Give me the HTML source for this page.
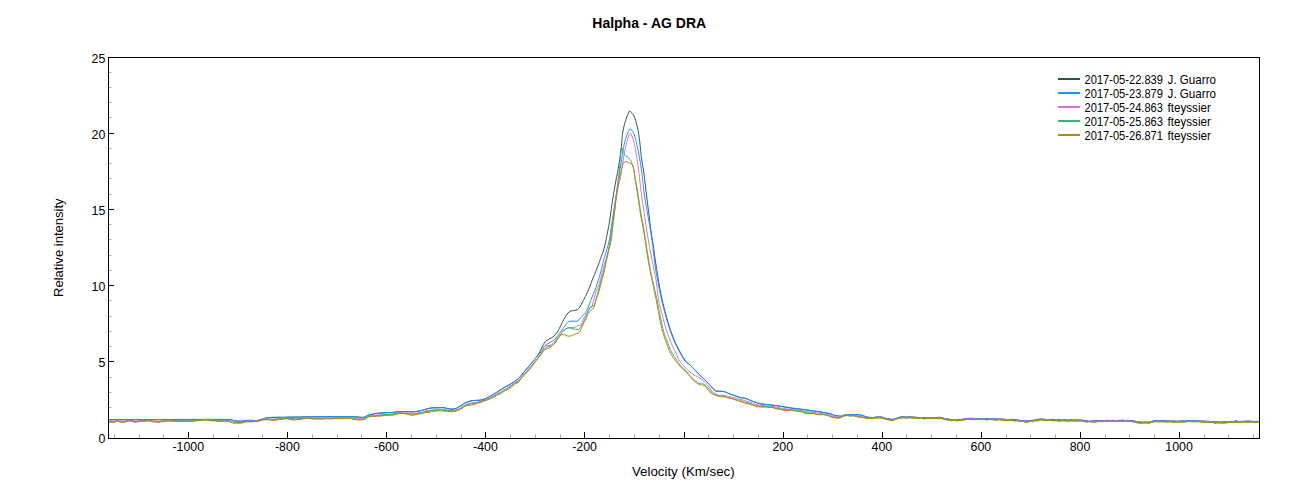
<!DOCTYPE html>
<html><head><meta charset="utf-8"><style>
html,body{margin:0;padding:0;background:#fff;width:1299px;height:500px;overflow:hidden}
svg{position:absolute;left:0;top:0}
text{font-family:"Liberation Sans",sans-serif;fill:#000}
.tk{font-size:12.4px}
.lg{font-size:11.1px}
.ttl{font-size:14px;font-weight:bold}
.ax{font-size:13.3px}
</style></head><body>
<svg width="1299" height="500" viewBox="0 0 1299 500">
<text x="649.2" y="27.8" text-anchor="middle" class="ttl">Halpha - AG DRA</text>
<line x1="108" y1="438.5" x2="114" y2="438.5" stroke="#000" stroke-width="1"/><line x1="108" y1="422.5" x2="111.5" y2="422.5" stroke="#a8a8a8" stroke-width="1"/><line x1="108" y1="407.5" x2="111.5" y2="407.5" stroke="#a8a8a8" stroke-width="1"/><line x1="108" y1="392.5" x2="111.5" y2="392.5" stroke="#a8a8a8" stroke-width="1"/><line x1="108" y1="377.5" x2="111.5" y2="377.5" stroke="#a8a8a8" stroke-width="1"/><line x1="108" y1="361.5" x2="114" y2="361.5" stroke="#000" stroke-width="1"/><line x1="108" y1="346.5" x2="111.5" y2="346.5" stroke="#a8a8a8" stroke-width="1"/><line x1="108" y1="331.5" x2="111.5" y2="331.5" stroke="#a8a8a8" stroke-width="1"/><line x1="108" y1="316.5" x2="111.5" y2="316.5" stroke="#a8a8a8" stroke-width="1"/><line x1="108" y1="300.5" x2="111.5" y2="300.5" stroke="#a8a8a8" stroke-width="1"/><line x1="108" y1="285.5" x2="114" y2="285.5" stroke="#000" stroke-width="1"/><line x1="108" y1="270.5" x2="111.5" y2="270.5" stroke="#a8a8a8" stroke-width="1"/><line x1="108" y1="255.5" x2="111.5" y2="255.5" stroke="#a8a8a8" stroke-width="1"/><line x1="108" y1="239.5" x2="111.5" y2="239.5" stroke="#a8a8a8" stroke-width="1"/><line x1="108" y1="224.5" x2="111.5" y2="224.5" stroke="#a8a8a8" stroke-width="1"/><line x1="108" y1="209.5" x2="114" y2="209.5" stroke="#000" stroke-width="1"/><line x1="108" y1="194.5" x2="111.5" y2="194.5" stroke="#a8a8a8" stroke-width="1"/><line x1="108" y1="178.5" x2="111.5" y2="178.5" stroke="#a8a8a8" stroke-width="1"/><line x1="108" y1="163.5" x2="111.5" y2="163.5" stroke="#a8a8a8" stroke-width="1"/><line x1="108" y1="148.5" x2="111.5" y2="148.5" stroke="#a8a8a8" stroke-width="1"/><line x1="108" y1="133.5" x2="114" y2="133.5" stroke="#000" stroke-width="1"/><line x1="108" y1="117.5" x2="111.5" y2="117.5" stroke="#a8a8a8" stroke-width="1"/><line x1="108" y1="102.5" x2="111.5" y2="102.5" stroke="#a8a8a8" stroke-width="1"/><line x1="108" y1="87.5" x2="111.5" y2="87.5" stroke="#a8a8a8" stroke-width="1"/><line x1="108" y1="72.5" x2="111.5" y2="72.5" stroke="#a8a8a8" stroke-width="1"/><line x1="108" y1="57.5" x2="114" y2="57.5" stroke="#000" stroke-width="1"/><line x1="114.5" y1="438" x2="114.5" y2="434.5" stroke="#a8a8a8" stroke-width="1"/><line x1="139.5" y1="438" x2="139.5" y2="434.5" stroke="#a8a8a8" stroke-width="1"/><line x1="163.5" y1="438" x2="163.5" y2="434.5" stroke="#a8a8a8" stroke-width="1"/><line x1="188.5" y1="438" x2="188.5" y2="432" stroke="#000" stroke-width="1"/><line x1="213.5" y1="438" x2="213.5" y2="434.5" stroke="#a8a8a8" stroke-width="1"/><line x1="238.5" y1="438" x2="238.5" y2="434.5" stroke="#a8a8a8" stroke-width="1"/><line x1="262.5" y1="438" x2="262.5" y2="434.5" stroke="#a8a8a8" stroke-width="1"/><line x1="287.5" y1="438" x2="287.5" y2="432" stroke="#000" stroke-width="1"/><line x1="312.5" y1="438" x2="312.5" y2="434.5" stroke="#a8a8a8" stroke-width="1"/><line x1="337.5" y1="438" x2="337.5" y2="434.5" stroke="#a8a8a8" stroke-width="1"/><line x1="361.5" y1="438" x2="361.5" y2="434.5" stroke="#a8a8a8" stroke-width="1"/><line x1="386.5" y1="438" x2="386.5" y2="432" stroke="#000" stroke-width="1"/><line x1="411.5" y1="438" x2="411.5" y2="434.5" stroke="#a8a8a8" stroke-width="1"/><line x1="436.5" y1="438" x2="436.5" y2="434.5" stroke="#a8a8a8" stroke-width="1"/><line x1="461.5" y1="438" x2="461.5" y2="434.5" stroke="#a8a8a8" stroke-width="1"/><line x1="485.5" y1="438" x2="485.5" y2="432" stroke="#000" stroke-width="1"/><line x1="510.5" y1="438" x2="510.5" y2="434.5" stroke="#a8a8a8" stroke-width="1"/><line x1="535.5" y1="438" x2="535.5" y2="434.5" stroke="#a8a8a8" stroke-width="1"/><line x1="560.5" y1="438" x2="560.5" y2="434.5" stroke="#a8a8a8" stroke-width="1"/><line x1="584.5" y1="438" x2="584.5" y2="432" stroke="#000" stroke-width="1"/><line x1="609.5" y1="438" x2="609.5" y2="434.5" stroke="#a8a8a8" stroke-width="1"/><line x1="634.5" y1="438" x2="634.5" y2="434.5" stroke="#a8a8a8" stroke-width="1"/><line x1="659.5" y1="438" x2="659.5" y2="434.5" stroke="#a8a8a8" stroke-width="1"/><line x1="684.5" y1="438" x2="684.5" y2="432" stroke="#000" stroke-width="1"/><line x1="708.5" y1="438" x2="708.5" y2="434.5" stroke="#a8a8a8" stroke-width="1"/><line x1="733.5" y1="438" x2="733.5" y2="434.5" stroke="#a8a8a8" stroke-width="1"/><line x1="758.5" y1="438" x2="758.5" y2="434.5" stroke="#a8a8a8" stroke-width="1"/><line x1="783.5" y1="438" x2="783.5" y2="432" stroke="#000" stroke-width="1"/><line x1="807.5" y1="438" x2="807.5" y2="434.5" stroke="#a8a8a8" stroke-width="1"/><line x1="832.5" y1="438" x2="832.5" y2="434.5" stroke="#a8a8a8" stroke-width="1"/><line x1="857.5" y1="438" x2="857.5" y2="434.5" stroke="#a8a8a8" stroke-width="1"/><line x1="882.5" y1="438" x2="882.5" y2="432" stroke="#000" stroke-width="1"/><line x1="906.5" y1="438" x2="906.5" y2="434.5" stroke="#a8a8a8" stroke-width="1"/><line x1="931.5" y1="438" x2="931.5" y2="434.5" stroke="#a8a8a8" stroke-width="1"/><line x1="956.5" y1="438" x2="956.5" y2="434.5" stroke="#a8a8a8" stroke-width="1"/><line x1="981.5" y1="438" x2="981.5" y2="432" stroke="#000" stroke-width="1"/><line x1="1006.5" y1="438" x2="1006.5" y2="434.5" stroke="#a8a8a8" stroke-width="1"/><line x1="1030.5" y1="438" x2="1030.5" y2="434.5" stroke="#a8a8a8" stroke-width="1"/><line x1="1055.5" y1="438" x2="1055.5" y2="434.5" stroke="#a8a8a8" stroke-width="1"/><line x1="1080.5" y1="438" x2="1080.5" y2="432" stroke="#000" stroke-width="1"/><line x1="1105.5" y1="438" x2="1105.5" y2="434.5" stroke="#a8a8a8" stroke-width="1"/><line x1="1129.5" y1="438" x2="1129.5" y2="434.5" stroke="#a8a8a8" stroke-width="1"/><line x1="1154.5" y1="438" x2="1154.5" y2="434.5" stroke="#a8a8a8" stroke-width="1"/><line x1="1179.5" y1="438" x2="1179.5" y2="432" stroke="#000" stroke-width="1"/><line x1="1204.5" y1="438" x2="1204.5" y2="434.5" stroke="#a8a8a8" stroke-width="1"/><line x1="1228.5" y1="438" x2="1228.5" y2="434.5" stroke="#a8a8a8" stroke-width="1"/><line x1="1253.5" y1="438" x2="1253.5" y2="434.5" stroke="#a8a8a8" stroke-width="1"/>
<g shape-rendering="auto"><path d="M108.00,419.61 L111.00,419.73 L114.00,419.67 L117.00,419.66 L120.00,419.69 L123.00,419.67 L126.00,419.54 L129.00,419.70 L132.00,419.65 L135.00,419.65 L138.00,419.45 L141.00,419.72 L144.00,419.56 L147.00,419.58 L150.00,419.56 L153.00,419.57 L156.00,419.51 L159.00,419.57 L162.00,419.62 L165.00,419.40 L168.00,419.57 L171.00,419.47 L174.00,419.63 L177.00,419.37 L180.00,419.54 L183.00,419.41 L186.00,419.54 L189.00,419.43 L192.00,419.45 L195.00,419.39 L198.00,419.43 L201.00,419.48 L204.00,419.36 L207.00,419.43 L210.00,419.33 L213.00,419.55 L216.00,419.41 L219.00,419.44 L222.00,419.44 L225.00,419.53 L228.00,419.44 L231.00,419.55 L232.50,420.08 L234.00,420.70 L237.00,421.12 L240.00,421.19 L243.00,421.13 L246.00,420.37 L249.00,420.32 L252.00,420.40 L255.00,420.50 L258.00,420.36 L261.00,419.52 L262.50,419.05 L264.00,418.51 L267.00,417.87 L270.00,417.58 L273.00,417.33 L276.00,417.39 L279.00,417.24 L282.00,417.37 L285.00,417.27 L288.00,417.19 L291.00,417.17 L294.00,417.12 L297.00,417.11 L300.00,417.06 L303.00,417.01 L306.00,416.90 L309.00,416.91 L312.00,416.95 L315.00,416.84 L318.00,416.78 L321.00,416.75 L324.00,416.81 L327.00,416.80 L330.00,416.57 L333.00,416.72 L336.00,416.64 L339.00,416.65 L342.00,416.55 L345.00,416.73 L348.00,416.67 L351.00,416.69 L354.00,416.83 L357.00,417.05 L360.00,417.23 L363.00,417.46 L364.50,417.00 L366.00,416.35 L367.50,415.72 L369.00,415.08 L372.00,414.22 L375.00,413.49 L378.00,413.26 L381.00,412.99 L384.00,412.87 L387.00,412.59 L390.00,412.55 L393.00,412.40 L396.00,412.10 L399.00,411.54 L402.00,411.56 L405.00,411.68 L408.00,411.72 L411.00,411.83 L414.00,411.89 L417.00,411.37 L420.00,410.80 L423.00,410.21 L424.50,409.61 L426.00,409.10 L429.00,408.31 L432.00,407.90 L435.00,407.77 L438.00,407.76 L441.00,407.65 L444.00,407.62 L447.00,408.49 L450.00,409.02 L453.00,409.17 L456.00,408.40 L457.50,407.71 L459.00,406.89 L460.50,405.99 L462.00,404.99 L463.50,403.90 L465.00,402.96 L466.50,402.35 L468.00,401.81 L471.00,400.81 L474.00,400.47 L477.00,400.43 L480.00,400.20 L483.00,399.45 L484.50,399.08 L486.00,398.45 L487.50,397.62 L489.00,396.85 L490.50,396.08 L492.00,395.14 L493.50,394.22 L495.00,393.44 L496.50,392.55 L498.00,391.46 L499.50,390.41 L501.00,389.49 L502.50,388.59 L504.00,387.67 L505.50,386.85 L507.00,386.04 L508.50,385.19 L510.00,384.36 L511.50,383.50 L513.00,382.54 L514.50,381.54 L516.00,380.60 L517.62,379.40 L519.00,378.09 L520.00,376.92 L520.58,376.28 L521.30,375.43 L522.13,374.46 L523.06,373.38 L524.05,372.19 L525.08,370.94 L526.13,369.66 L527.17,368.40 L528.18,367.21 L529.13,366.07 L530.00,365.02 L530.99,363.81 L531.95,362.66 L532.89,361.57 L533.80,360.51 L534.69,359.45 L535.56,358.38 L536.40,357.28 L537.21,356.16 L538.00,354.99 L538.87,353.58 L539.71,352.05 L540.53,350.45 L541.31,348.82 L542.06,347.25 L542.76,345.80 L543.41,344.52 L544.00,343.48 L545.22,341.78 L546.11,340.98 L547.00,340.32 L548.50,339.30 L550.00,338.51 L551.38,338.03 L553.00,336.99 L553.87,336.13 L554.86,335.09 L555.90,333.89 L556.97,332.53 L558.00,331.01 L558.71,329.78 L559.40,328.42 L560.09,326.96 L560.79,325.45 L561.50,323.92 L562.23,322.43 L563.00,321.00 L563.78,319.59 L564.57,318.14 L565.37,316.71 L566.20,315.34 L567.07,314.08 L568.00,312.95 L569.00,312.00 L570.60,311.13 L572.41,310.74 L574.27,310.49 L576.02,310.13 L577.50,309.49 L578.63,308.57 L579.52,307.49 L580.28,306.21 L581.07,304.72 L582.00,302.98 L582.61,301.87 L583.27,300.64 L583.96,299.34 L584.66,297.97 L585.37,296.57 L586.08,295.14 L586.76,293.73 L587.40,292.34 L588.00,291.02 L588.69,289.38 L589.33,287.77 L589.93,286.17 L590.49,284.60 L591.05,283.04 L591.62,281.51 L592.20,279.99 L592.81,278.51 L593.42,277.06 L594.03,275.63 L594.64,274.22 L595.24,272.82 L595.83,271.41 L596.40,269.99 L597.03,268.33 L597.64,266.67 L598.24,265.00 L598.82,263.34 L599.41,261.67 L600.00,260.01 L600.61,258.35 L601.24,256.68 L601.88,255.01 L602.49,253.34 L603.07,251.66 L603.60,249.99 L604.06,248.43 L604.44,246.99 L604.80,245.55 L605.16,243.99 L605.54,242.18 L606.00,240.00 L606.28,238.62 L606.59,237.13 L606.91,235.53 L607.25,233.85 L607.59,232.10 L607.94,230.29 L608.28,228.45 L608.63,226.58 L608.97,224.70 L609.29,222.84 L609.60,221.00 L609.87,219.31 L610.13,217.60 L610.38,215.86 L610.63,214.10 L610.87,212.33 L611.11,210.55 L611.35,208.77 L611.59,206.99 L611.84,205.22 L612.08,203.46 L612.34,201.71 L612.60,199.99 L612.90,198.10 L613.21,196.16 L613.54,194.20 L613.87,192.23 L614.20,190.27 L614.53,188.35 L614.85,186.49 L615.16,184.70 L615.46,183.01 L615.74,181.44 L616.00,180.00 L616.40,177.87 L616.73,176.30 L617.02,175.00 L617.31,173.71 L617.62,172.14 L618.00,170.02 L618.24,168.59 L618.50,167.00 L618.78,165.29 L619.07,163.48 L619.36,161.59 L619.66,159.66 L619.96,157.70 L620.24,155.75 L620.51,153.83 L620.77,151.97 L621.00,150.19 L621.24,148.06 L621.45,145.93 L621.64,143.80 L621.81,141.69 L621.97,139.61 L622.14,137.59 L622.33,135.63 L622.55,133.76 L622.80,131.98 L623.14,130.08 L623.52,128.24 L623.94,126.48 L624.37,124.81 L624.80,123.24 L625.23,121.77 L625.63,120.42 L626.00,119.19 L626.87,116.65 L627.64,114.91 L628.30,113.51 L629.01,111.72 L629.60,110.83 L631.00,112.32 L631.89,113.18 L632.96,114.29 L634.00,115.98 L634.58,117.36 L635.15,118.97 L635.72,120.76 L636.27,122.72 L636.80,124.81 L637.17,126.36 L637.52,127.96 L637.87,129.64 L638.21,131.41 L638.54,133.31 L638.87,135.36 L639.20,137.58 L639.43,139.28 L639.65,141.11 L639.86,143.05 L640.08,145.07 L640.29,147.14 L640.50,149.23 L640.72,151.31 L640.94,153.35 L641.16,155.33 L641.40,157.21 L641.67,159.18 L641.95,161.06 L642.24,162.87 L642.53,164.65 L642.83,166.42 L643.13,168.21 L643.42,170.05 L643.71,171.97 L644.00,174.00 L644.23,175.76 L644.46,177.58 L644.69,179.45 L644.92,181.37 L645.14,183.31 L645.37,185.28 L645.60,187.26 L645.82,189.23 L646.05,191.18 L646.27,193.11 L646.50,195.00 L646.73,196.87 L646.96,198.77 L647.20,200.66 L647.44,202.56 L647.68,204.44 L647.91,206.31 L648.14,208.14 L648.37,209.94 L648.59,211.68 L648.80,213.37 L649.00,215.00 L649.25,217.11 L649.49,219.10 L649.70,220.99 L649.91,222.81 L650.11,224.59 L650.32,226.37 L650.55,228.16 L650.80,230.00 L651.07,231.84 L651.35,233.63 L651.64,235.41 L651.94,237.19 L652.24,239.01 L652.56,240.89 L652.88,242.88 L653.20,244.99 L653.44,246.62 L653.68,248.32 L653.92,250.08 L654.17,251.89 L654.42,253.74 L654.68,255.61 L654.94,257.50 L655.20,259.40 L655.46,261.29 L655.73,263.16 L656.00,265.00 L656.28,266.84 L656.56,268.71 L656.85,270.60 L657.14,272.50 L657.44,274.39 L657.74,276.26 L658.03,278.11 L658.33,279.92 L658.62,281.68 L658.92,283.38 L659.20,285.01 L659.54,286.89 L659.86,288.67 L660.19,290.37 L660.50,292.01 L660.82,293.61 L661.15,295.19 L661.48,296.77 L661.83,298.37 L662.20,300.01 L662.58,301.68 L662.98,303.35 L663.38,305.01 L663.80,306.67 L664.22,308.33 L664.65,309.98 L665.09,311.64 L665.54,313.30 L666.00,314.97 L666.46,316.64 L666.92,318.31 L667.39,319.99 L667.87,321.67 L668.36,323.34 L668.86,325.02 L669.39,326.69 L669.93,328.35 L670.50,330.01 L671.03,331.51 L671.57,333.00 L672.12,334.50 L672.68,336.00 L673.26,337.51 L673.86,339.02 L674.48,340.52 L675.13,342.01 L675.80,343.50 L676.50,344.98 L677.18,346.37 L677.91,347.83 L678.68,349.34 L679.48,350.87 L680.29,352.40 L681.11,353.88 L681.91,355.30 L682.70,356.64 L683.45,357.88 L684.15,359.01 L684.80,359.99 L685.96,361.55 L686.87,362.47 L687.72,363.10 L688.70,363.83 L690.00,365.01 L690.82,365.84 L691.74,366.77 L692.74,367.78 L693.80,368.86 L694.89,369.97 L695.99,371.10 L697.07,372.21 L698.12,373.29 L699.10,374.30 L700.00,375.28 L701.35,376.64 L702.59,377.78 L703.75,378.80 L704.85,379.81 L705.93,380.86 L707.00,381.95 L708.09,383.11 L709.19,384.29 L710.25,385.47 L711.26,386.60 L712.19,387.62 L713.00,388.46 L714.38,390.08 L716.00,390.97 L717.67,391.23 L719.75,391.29 L721.95,391.32 L724.00,391.58 L725.75,392.13 L727.38,392.84 L729.06,393.66 L731.00,394.48 L732.56,394.95 L734.33,395.41 L736.19,396.07 L738.00,396.80 L739.65,397.27 L741.00,397.58 L743.44,398.06 L745.00,398.24 L746.56,398.70 L748.00,399.32 L749.50,400.01 L751.00,400.65 L752.50,401.18 L754.00,401.68 L755.50,402.22 L757.00,402.77 L758.50,403.35 L760.00,403.81 L763.00,404.10 L766.00,404.46 L769.00,404.76 L772.00,405.25 L775.00,405.43 L778.00,405.82 L781.00,406.29 L784.00,406.91 L787.00,407.34 L790.00,407.79 L793.00,408.35 L796.00,408.63 L799.00,408.94 L802.00,409.41 L805.00,409.73 L808.00,410.17 L811.00,410.56 L814.00,411.05 L817.00,411.33 L820.00,411.89 L823.00,412.42 L826.00,412.87 L829.00,413.43 L832.00,414.32 L833.50,415.02 L835.00,415.52 L838.00,415.98 L841.00,416.29 L842.50,415.70 L844.00,415.06 L847.00,414.43 L850.00,414.59 L853.00,414.59 L856.00,414.59 L859.00,414.49 L862.00,415.45 L863.50,415.94 L865.00,416.42 L868.00,417.30 L870.50,417.39 L873.00,417.78 L876.00,417.02 L879.00,416.84 L882.00,417.09 L885.00,418.30 L888.00,418.61 L891.00,419.28 L894.00,419.18 L895.50,418.97 L897.00,418.16 L900.00,417.03 L903.00,416.86 L906.00,417.12 L909.00,416.83 L912.00,417.04 L915.00,417.15 L918.00,417.51 L921.00,417.55 L924.00,417.90 L927.00,417.50 L930.00,417.50 L933.00,417.59 L936.00,417.69 L939.00,417.23 L942.00,417.88 L945.00,418.71 L948.00,418.96 L951.00,419.63 L954.00,419.70 L957.00,419.54 L960.00,419.47 L963.00,419.29 L966.00,418.69 L969.00,418.39 L972.00,418.31 L975.00,418.53 L978.00,418.65 L981.00,418.34 L984.00,418.60 L987.00,418.68 L990.00,418.84 L993.00,418.84 L996.00,418.93 L999.00,419.09 L1002.00,419.06 L1005.00,419.35 L1008.00,419.66 L1011.00,419.35 L1014.00,419.58 L1017.00,419.93 L1020.00,420.39 L1023.00,420.81 L1026.00,421.04 L1029.00,420.78 L1032.00,420.25 L1035.00,420.33 L1038.00,419.23 L1041.00,419.09 L1044.00,419.15 L1047.00,419.82 L1050.00,419.38 L1053.00,419.45 L1056.00,420.12 L1059.00,419.75 L1062.00,420.17 L1065.00,419.89 L1068.00,420.15 L1071.00,419.70 L1074.00,420.20 L1077.00,420.10 L1080.00,419.94 L1083.00,420.20 L1086.00,420.77 L1089.00,421.27 L1092.00,421.02 L1095.00,420.83 L1098.00,420.79 L1101.00,420.64 L1104.00,420.57 L1107.00,420.29 L1110.00,420.41 L1113.00,420.35 L1116.00,420.37 L1119.00,420.71 L1122.00,420.10 L1125.00,420.41 L1128.00,420.39 L1131.00,420.85 L1134.00,420.83 L1137.00,421.78 L1140.00,422.13 L1143.00,422.15 L1146.00,422.13 L1149.00,422.10 L1152.00,421.34 L1155.00,420.51 L1158.00,421.15 L1161.00,420.71 L1164.00,420.74 L1167.00,420.93 L1170.00,421.17 L1173.00,420.92 L1176.00,421.26 L1179.00,421.08 L1182.00,421.02 L1185.00,420.93 L1188.00,420.93 L1191.00,420.46 L1194.00,420.45 L1197.00,420.82 L1200.00,421.19 L1203.00,420.95 L1206.00,421.31 L1209.00,421.35 L1212.00,421.81 L1215.00,421.77 L1218.00,421.91 L1221.00,422.23 L1224.00,421.82 L1227.00,421.86 L1230.00,421.35 L1233.00,421.61 L1236.00,420.80 L1239.00,421.70 L1242.00,421.24 L1245.00,421.32 L1248.00,421.00 L1251.00,421.31 L1254.00,421.44 L1257.00,421.32 L1259.00,421.54" fill="none" stroke="#2F4F4F" stroke-width="1.0" stroke-linejoin="round"/><path d="M108.00,419.73 L111.00,419.65 L114.00,419.77 L117.00,419.54 L120.00,419.75 L123.00,419.64 L126.00,419.63 L129.00,419.63 L132.00,419.64 L135.00,419.58 L138.00,419.65 L141.00,419.61 L144.00,419.55 L147.00,419.55 L150.00,419.66 L153.00,419.48 L156.00,419.61 L159.00,419.46 L162.00,419.61 L165.00,419.52 L168.00,419.51 L171.00,419.51 L174.00,419.47 L177.00,419.59 L180.00,419.36 L183.00,419.59 L186.00,419.37 L189.00,419.50 L192.00,419.44 L195.00,419.44 L198.00,419.43 L201.00,419.32 L204.00,419.56 L207.00,419.31 L210.00,419.43 L213.00,419.42 L216.00,419.48 L219.00,419.45 L222.00,419.42 L225.00,419.52 L228.00,419.45 L231.00,419.54 L232.50,420.14 L234.00,420.69 L237.00,421.12 L240.00,421.32 L243.00,420.89 L246.00,420.51 L249.00,420.35 L252.00,420.39 L255.00,420.36 L258.00,420.51 L261.00,419.51 L262.50,418.87 L264.00,418.37 L267.00,418.06 L270.00,417.44 L273.00,417.38 L276.00,417.35 L279.00,417.33 L282.00,417.30 L285.00,417.27 L288.00,417.21 L291.00,417.16 L294.00,417.15 L297.00,417.03 L300.00,417.13 L303.00,416.96 L306.00,416.90 L309.00,416.96 L312.00,416.93 L315.00,416.79 L318.00,416.77 L321.00,416.91 L324.00,416.67 L327.00,416.78 L330.00,416.64 L333.00,416.73 L336.00,416.58 L339.00,416.67 L342.00,416.59 L345.00,416.68 L348.00,416.66 L351.00,416.78 L354.00,416.77 L357.00,416.98 L360.00,417.28 L363.00,417.57 L364.50,417.03 L366.00,416.24 L367.50,415.58 L369.00,415.06 L372.00,414.23 L375.00,413.56 L378.00,413.22 L381.00,412.95 L384.00,412.84 L387.00,412.66 L390.00,412.52 L393.00,412.42 L396.00,412.04 L399.00,411.54 L402.00,411.64 L405.00,411.62 L408.00,411.74 L411.00,411.77 L414.00,411.91 L417.00,411.41 L420.00,410.84 L423.00,410.15 L424.50,409.59 L426.00,409.02 L429.00,408.45 L432.00,407.89 L435.00,407.73 L438.00,407.71 L441.00,407.68 L444.00,407.70 L447.00,408.45 L450.00,408.96 L453.00,409.18 L456.00,408.46 L457.50,407.79 L459.00,406.88 L460.50,405.90 L462.00,404.94 L463.50,403.94 L465.00,403.03 L466.50,402.32 L468.00,401.67 L471.00,400.96 L474.00,400.48 L477.00,400.31 L480.00,400.22 L483.00,399.51 L484.50,399.08 L486.00,398.45 L487.50,397.63 L489.00,396.81 L490.50,396.02 L492.00,395.17 L493.50,394.29 L495.00,393.38 L496.50,392.43 L498.00,391.49 L499.50,390.56 L501.00,389.60 L502.50,388.57 L504.00,387.57 L505.50,386.72 L507.00,386.00 L508.50,385.28 L510.00,384.41 L511.50,383.46 L513.00,382.60 L514.50,381.70 L516.00,380.55 L517.62,379.14 L519.00,378.02 L520.00,376.87 L520.57,376.14 L521.27,375.29 L522.08,374.31 L522.97,373.21 L523.94,372.05 L524.95,370.84 L525.98,369.61 L527.03,368.37 L528.06,367.13 L529.06,365.92 L530.00,364.79 L531.02,363.57 L532.08,362.34 L533.16,361.11 L534.24,359.88 L535.31,358.64 L536.36,357.41 L537.37,356.21 L538.32,355.07 L539.20,354.00 L540.00,353.01 L541.12,351.46 L542.04,350.02 L542.81,348.69 L543.52,347.48 L544.22,346.41 L545.00,345.49 L546.25,344.46 L547.50,343.77 L548.75,343.18 L550.00,342.49 L551.27,341.69 L552.56,340.88 L553.82,339.99 L555.00,338.99 L556.07,337.87 L557.06,336.63 L558.02,335.33 L559.00,334.00 L559.95,332.68 L560.88,331.36 L561.86,329.99 L563.00,328.52 L563.86,327.37 L564.78,326.04 L565.75,324.66 L566.78,323.37 L567.86,322.29 L569.00,321.51 L570.96,321.02 L573.14,321.13 L575.25,321.37 L577.00,321.20 L578.51,320.34 L579.56,319.12 L580.80,317.60 L581.64,316.76 L582.56,315.89 L583.54,314.94 L584.53,313.85 L585.49,312.61 L586.40,311.17 L587.05,309.92 L587.68,308.50 L588.31,306.97 L588.93,305.37 L589.52,303.75 L590.10,302.15 L590.66,300.63 L591.20,299.23 L591.87,297.58 L592.49,296.08 L593.07,294.68 L593.64,293.30 L594.21,291.89 L594.80,290.38 L595.32,288.99 L595.85,287.53 L596.38,286.04 L596.91,284.52 L597.43,282.99 L597.93,281.48 L598.40,280.00 L598.92,278.30 L599.40,276.63 L599.86,274.97 L600.31,273.32 L600.75,271.67 L601.20,270.01 L601.64,268.35 L602.07,266.69 L602.50,265.02 L602.93,263.35 L603.36,261.68 L603.80,260.00 L604.26,258.33 L604.72,256.66 L605.19,254.99 L605.67,253.32 L606.14,251.65 L606.60,249.98 L607.05,248.42 L607.50,246.99 L607.94,245.56 L608.39,244.00 L608.84,242.19 L609.30,240.01 L609.57,238.53 L609.84,236.98 L610.10,235.36 L610.36,233.64 L610.62,231.83 L610.90,229.91 L611.19,227.88 L611.50,225.73 L611.84,223.44 L612.20,221.01 L612.43,219.46 L612.69,217.79 L612.96,216.02 L613.24,214.16 L613.53,212.22 L613.83,210.24 L614.14,208.22 L614.45,206.18 L614.76,204.15 L615.07,202.13 L615.37,200.15 L615.66,198.23 L615.94,196.38 L616.21,194.61 L616.46,192.95 L616.69,191.41 L616.90,190.02 L617.27,187.48 L617.57,185.38 L617.82,183.62 L618.02,182.09 L618.22,180.68 L618.41,179.27 L618.63,177.75 L618.90,176.02 L619.18,174.30 L619.47,172.49 L619.79,170.63 L620.11,168.74 L620.44,166.87 L620.76,165.02 L621.06,163.24 L621.34,161.55 L621.60,159.98 L621.92,157.86 L622.17,155.96 L622.39,154.20 L622.62,152.50 L622.88,150.79 L623.20,148.99 L623.53,147.36 L623.88,145.69 L624.26,143.99 L624.66,142.31 L625.08,140.66 L625.53,139.09 L626.00,137.61 L626.59,135.89 L627.22,134.11 L627.89,132.42 L628.57,130.94 L629.24,129.83 L629.90,129.19 L630.88,129.24 L631.87,130.18 L632.82,131.68 L633.70,133.41 L634.23,134.69 L634.72,136.17 L635.18,137.81 L635.63,139.56 L636.06,141.37 L636.50,143.19 L636.87,144.71 L637.22,146.21 L637.57,147.74 L637.91,149.33 L638.26,151.05 L638.62,152.92 L639.00,155.00 L639.26,156.45 L639.52,157.99 L639.80,159.61 L640.08,161.29 L640.36,163.03 L640.65,164.82 L640.93,166.63 L641.21,168.47 L641.48,170.32 L641.75,172.17 L642.00,174.00 L642.24,175.84 L642.46,177.71 L642.67,179.61 L642.87,181.54 L643.08,183.47 L643.28,185.42 L643.48,187.36 L643.69,189.30 L643.91,191.23 L644.15,193.14 L644.40,195.02 L644.67,196.86 L644.95,198.65 L645.23,200.41 L645.53,202.16 L645.83,203.89 L646.14,205.64 L646.46,207.41 L646.79,209.22 L647.12,211.07 L647.46,212.99 L647.80,214.99 L648.08,216.61 L648.37,218.29 L648.67,220.00 L648.98,221.75 L649.29,223.52 L649.61,225.33 L649.92,227.15 L650.24,228.99 L650.56,230.84 L650.86,232.69 L651.16,234.54 L651.46,236.38 L651.74,238.21 L652.00,240.01 L652.25,241.82 L652.49,243.64 L652.71,245.48 L652.93,247.33 L653.14,249.18 L653.34,251.02 L653.54,252.86 L653.74,254.68 L653.94,256.48 L654.14,258.26 L654.35,260.01 L654.56,261.72 L654.77,263.39 L655.00,265.01 L655.30,267.03 L655.61,269.00 L655.93,270.93 L656.25,272.82 L656.58,274.68 L656.91,276.50 L657.24,278.27 L657.56,280.01 L657.88,281.72 L658.19,283.38 L658.50,285.00 L658.86,286.89 L659.20,288.68 L659.53,290.39 L659.86,292.03 L660.19,293.63 L660.52,295.20 L660.87,296.77 L661.22,298.37 L661.60,300.00 L661.99,301.66 L662.40,303.32 L662.82,304.98 L663.25,306.65 L663.68,308.32 L664.13,310.00 L664.58,311.67 L665.04,313.34 L665.50,315.01 L665.97,316.68 L666.43,318.35 L666.90,320.01 L667.38,321.67 L667.86,323.33 L668.37,324.99 L668.89,326.65 L669.43,328.32 L670.00,329.99 L670.53,331.50 L671.07,333.00 L671.61,334.51 L672.18,336.01 L672.76,337.51 L673.36,339.01 L673.98,340.51 L674.62,342.01 L675.30,343.50 L676.00,344.99 L676.68,346.39 L677.42,347.84 L678.19,349.34 L679.00,350.87 L679.81,352.39 L680.64,353.87 L681.45,355.30 L682.25,356.64 L683.01,357.88 L683.73,359.00 L684.40,359.99 L685.63,361.57 L686.63,362.49 L687.58,363.12 L688.64,363.82 L690.00,364.98 L690.84,365.81 L691.77,366.76 L692.77,367.78 L693.83,368.86 L694.91,369.99 L696.00,371.13 L697.08,372.25 L698.12,373.31 L699.10,374.28 L700.00,375.10 L701.35,376.48 L702.59,377.77 L703.75,378.87 L704.85,379.84 L705.93,380.86 L707.00,382.01 L708.09,383.25 L709.19,384.43 L710.25,385.48 L711.26,386.46 L712.19,387.43 L713.00,388.32 L714.38,390.10 L716.00,391.06 L717.67,391.23 L719.75,391.28 L721.95,391.34 L724.00,391.58 L725.75,392.13 L727.38,392.88 L729.06,393.68 L731.00,394.32 L732.56,394.82 L734.33,395.57 L736.19,396.24 L738.00,396.70 L739.65,397.20 L741.00,397.61 L743.44,397.95 L745.00,398.17 L746.56,398.82 L748.00,399.44 L749.50,400.00 L751.00,400.61 L752.50,401.18 L754.00,401.68 L755.50,402.18 L757.00,402.73 L758.50,403.33 L760.00,403.82 L763.00,404.17 L766.00,404.43 L769.00,404.76 L772.00,405.24 L775.00,405.38 L778.00,405.95 L781.00,406.27 L784.00,406.81 L787.00,407.30 L790.00,408.00 L793.00,408.24 L796.00,408.54 L799.00,409.05 L802.00,409.33 L805.00,409.81 L808.00,410.13 L811.00,410.54 L814.00,411.02 L817.00,411.41 L820.00,411.89 L823.00,412.36 L826.00,412.93 L829.00,413.34 L832.00,414.43 L833.50,415.00 L835.00,415.49 L838.00,415.99 L841.00,416.18 L842.50,415.80 L844.00,415.16 L847.00,414.47 L850.00,414.50 L853.00,414.59 L856.00,414.57 L859.00,414.62 L862.00,415.35 L863.50,415.88 L865.00,416.43 L868.00,417.29 L870.50,417.67 L873.00,417.73 L876.00,417.13 L879.00,416.99 L882.00,417.15 L885.00,418.32 L888.00,418.84 L891.00,419.44 L894.00,419.16 L895.50,418.56 L897.00,418.08 L900.00,417.49 L903.00,416.84 L906.00,417.08 L909.00,417.06 L912.00,417.05 L915.00,417.36 L918.00,417.55 L921.00,417.73 L924.00,417.78 L927.00,417.85 L930.00,417.49 L933.00,417.76 L936.00,417.66 L939.00,417.36 L942.00,418.13 L945.00,418.57 L948.00,419.29 L951.00,419.64 L954.00,419.81 L957.00,419.42 L960.00,420.07 L963.00,419.05 L966.00,418.75 L969.00,418.51 L972.00,418.67 L975.00,418.36 L978.00,418.86 L981.00,418.35 L984.00,418.75 L987.00,418.83 L990.00,418.96 L993.00,418.75 L996.00,419.20 L999.00,419.10 L1002.00,419.20 L1005.00,419.65 L1008.00,419.34 L1011.00,419.70 L1014.00,419.70 L1017.00,420.09 L1020.00,420.31 L1023.00,420.91 L1026.00,421.20 L1029.00,420.86 L1032.00,420.66 L1035.00,419.81 L1038.00,419.63 L1041.00,419.35 L1044.00,419.27 L1047.00,419.58 L1050.00,419.54 L1053.00,419.93 L1056.00,419.74 L1059.00,420.21 L1062.00,420.15 L1065.00,419.78 L1068.00,420.42 L1071.00,419.97 L1074.00,420.28 L1077.00,419.72 L1080.00,420.44 L1083.00,420.41 L1086.00,420.72 L1089.00,421.30 L1092.00,420.97 L1095.00,421.36 L1098.00,420.63 L1101.00,420.80 L1104.00,420.55 L1107.00,420.47 L1110.00,420.52 L1113.00,420.48 L1116.00,420.70 L1119.00,420.02 L1122.00,420.93 L1125.00,420.47 L1128.00,420.31 L1131.00,420.71 L1134.00,421.31 L1137.00,421.83 L1140.00,422.09 L1143.00,422.44 L1146.00,421.96 L1149.00,422.38 L1152.00,421.41 L1155.00,420.82 L1158.00,420.93 L1161.00,420.81 L1164.00,421.03 L1167.00,421.17 L1170.00,420.94 L1173.00,421.10 L1176.00,421.36 L1179.00,421.46 L1182.00,420.68 L1185.00,421.43 L1188.00,420.60 L1191.00,420.91 L1194.00,420.41 L1197.00,421.09 L1200.00,420.98 L1203.00,421.22 L1206.00,421.48 L1209.00,421.40 L1212.00,421.88 L1215.00,421.71 L1218.00,422.29 L1221.00,422.16 L1224.00,422.02 L1227.00,421.80 L1230.00,421.64 L1233.00,421.46 L1236.00,421.25 L1239.00,421.49 L1242.00,421.55 L1245.00,421.18 L1248.00,421.32 L1251.00,421.41 L1254.00,421.38 L1257.00,421.55 L1259.00,421.57" fill="none" stroke="#1E90FF" stroke-width="1.0" stroke-linejoin="round"/><path d="M108.00,421.09 L111.00,420.78 L114.00,421.17 L117.00,420.59 L120.00,421.12 L123.00,421.01 L126.00,420.99 L129.00,420.23 L132.00,420.72 L135.00,421.08 L138.00,420.79 L141.00,420.57 L144.00,420.55 L147.00,420.18 L150.00,420.61 L153.00,420.73 L156.00,420.88 L159.00,421.10 L162.00,420.94 L165.00,420.26 L168.00,420.47 L171.00,420.37 L174.00,420.49 L177.00,420.59 L180.00,420.36 L183.00,420.66 L186.00,420.53 L189.00,420.58 L192.00,420.37 L195.00,420.40 L198.00,420.06 L201.00,419.83 L204.00,419.82 L207.00,419.80 L210.00,420.08 L213.00,420.11 L216.00,420.60 L219.00,420.34 L222.00,420.44 L225.00,420.43 L228.00,420.64 L231.00,420.79 L232.50,421.48 L234.00,422.20 L237.00,422.26 L240.00,422.29 L243.00,421.95 L246.00,421.28 L249.00,421.20 L252.00,421.31 L255.00,420.82 L258.00,420.98 L261.00,420.24 L262.50,419.40 L264.00,418.91 L267.00,418.88 L270.00,419.17 L273.00,418.90 L276.00,418.72 L279.00,418.90 L282.00,418.17 L285.00,418.10 L288.00,418.34 L291.00,418.47 L294.00,418.72 L297.00,418.72 L300.00,417.95 L303.00,418.30 L306.00,417.75 L309.00,417.61 L312.00,418.08 L315.00,418.31 L318.00,417.81 L321.00,418.10 L324.00,418.11 L327.00,417.75 L330.00,417.89 L333.00,417.90 L336.00,417.70 L339.00,417.74 L342.00,417.72 L345.00,417.71 L348.00,417.78 L351.00,417.76 L354.00,418.14 L357.00,418.71 L360.00,418.81 L363.00,418.71 L364.50,418.02 L366.00,417.37 L367.50,416.90 L369.00,416.31 L372.00,415.32 L375.00,415.04 L378.00,415.13 L381.00,414.56 L384.00,414.10 L387.00,414.31 L390.00,413.98 L393.00,413.87 L396.00,413.29 L399.00,412.75 L402.00,412.28 L405.00,413.24 L408.00,412.90 L411.00,413.78 L414.00,413.68 L417.00,413.12 L420.00,412.23 L423.00,412.19 L426.00,410.71 L429.00,410.39 L432.00,410.25 L435.00,409.42 L438.00,409.32 L441.00,409.61 L444.00,409.48 L447.00,409.98 L450.00,410.41 L453.00,410.36 L456.00,409.81 L457.50,409.58 L459.00,408.95 L460.50,407.77 L462.00,406.57 L463.50,405.72 L465.00,405.07 L466.50,404.44 L468.00,403.72 L471.00,403.06 L474.00,402.74 L477.00,402.18 L480.00,401.37 L483.00,400.59 L484.50,400.45 L486.00,399.75 L487.50,398.75 L489.00,398.04 L490.50,397.48 L492.00,396.69 L493.50,395.87 L495.00,395.18 L496.50,394.31 L498.00,393.22 L499.50,392.35 L501.00,391.65 L502.50,390.68 L504.00,389.69 L505.50,389.01 L507.00,388.24 L508.50,387.06 L510.00,386.02 L511.50,385.39 L513.00,384.55 L514.50,383.20 L516.00,381.99 L517.62,381.13 L519.00,380.18 L520.00,378.89 L520.64,378.07 L521.42,377.16 L522.34,376.14 L523.35,375.03 L524.44,373.85 L525.57,372.58 L526.72,371.26 L527.86,369.95 L528.96,368.69 L530.00,367.50 L530.93,366.45 L531.89,365.36 L532.86,364.24 L533.85,363.08 L534.83,361.92 L535.79,360.77 L536.73,359.66 L537.63,358.60 L538.49,357.56 L539.28,356.55 L540.00,355.56 L540.98,353.98 L541.79,352.36 L542.49,350.78 L543.12,349.29 L543.72,347.95 L544.33,346.81 L545.00,345.94 L547.50,345.45 L550.00,345.55 L551.25,344.73 L552.50,343.68 L553.75,342.44 L555.00,341.00 L555.83,339.81 L556.67,338.41 L557.50,336.92 L558.33,335.47 L559.17,334.15 L560.00,333.06 L561.29,331.81 L562.59,330.84 L563.86,330.09 L565.00,329.46 L566.72,328.34 L568.50,327.54 L571.22,327.44 L574.00,327.54 L575.52,326.94 L576.87,326.04 L578.00,325.45 L580.00,326.00 L580.55,325.17 L581.17,323.97 L581.84,322.52 L582.56,320.94 L583.28,319.38 L584.00,317.98 L584.74,316.68 L585.51,315.36 L586.31,314.03 L587.09,312.73 L587.83,311.50 L588.50,310.44 L589.71,308.99 L590.76,308.13 L591.60,307.23 L592.19,305.78 L592.80,303.32 L593.15,302.09 L593.56,300.59 L594.01,298.90 L594.50,297.11 L595.00,295.29 L595.50,293.54 L596.00,291.94 L596.58,290.27 L597.19,288.73 L597.80,287.24 L598.41,285.73 L599.02,284.13 L599.60,282.39 L600.06,280.83 L600.47,279.27 L600.87,277.68 L601.28,276.00 L601.72,274.20 L602.22,272.24 L602.80,270.06 L603.18,268.70 L603.60,267.28 L604.04,265.82 L604.51,264.30 L604.99,262.71 L605.48,261.07 L605.98,259.37 L606.48,257.62 L606.98,255.81 L607.47,253.95 L607.94,252.01 L608.40,250.00 L608.72,248.50 L609.04,246.93 L609.36,245.28 L609.68,243.56 L610.00,241.80 L610.32,239.98 L610.64,238.14 L610.96,236.26 L611.27,234.38 L611.57,232.49 L611.88,230.61 L612.17,228.74 L612.46,226.91 L612.73,225.10 L613.00,223.35 L613.26,221.64 L613.50,220.00 L613.78,218.04 L614.03,216.09 L614.27,214.15 L614.50,212.22 L614.71,210.32 L614.91,208.44 L615.10,206.59 L615.29,204.78 L615.48,203.01 L615.67,201.29 L615.86,199.62 L616.06,198.01 L616.28,196.47 L616.50,195.00 L616.88,192.83 L617.29,190.79 L617.72,188.89 L618.15,187.12 L618.58,185.47 L618.99,183.94 L619.37,182.53 L619.71,181.22 L620.00,180.01 L620.46,177.97 L620.64,176.91 L621.10,174.04 L621.31,172.71 L621.55,171.12 L621.82,169.32 L622.11,167.36 L622.42,165.28 L622.74,163.13 L623.07,160.97 L623.40,158.83 L623.72,156.77 L624.03,154.84 L624.33,153.09 L624.60,151.56 L625.11,149.00 L625.60,146.85 L626.06,145.02 L626.51,143.41 L626.96,141.91 L627.40,140.43 L628.03,138.11 L628.63,135.90 L629.24,134.21 L629.90,133.42 L630.64,133.73 L631.43,134.92 L632.23,136.75 L633.00,138.95 L633.42,140.35 L633.82,141.91 L634.22,143.61 L634.62,145.45 L635.01,147.41 L635.40,149.49 L635.80,151.66 L636.08,153.23 L636.36,154.85 L636.64,156.53 L636.92,158.26 L637.19,160.05 L637.47,161.90 L637.75,163.82 L638.03,165.81 L638.32,167.86 L638.60,169.99 L638.82,171.70 L639.03,173.49 L639.25,175.34 L639.47,177.25 L639.68,179.21 L639.90,181.19 L640.12,183.20 L640.34,185.21 L640.56,187.22 L640.79,189.22 L641.02,191.18 L641.26,193.11 L641.50,194.98 L641.75,196.84 L642.02,198.72 L642.30,200.61 L642.58,202.50 L642.87,204.38 L643.16,206.25 L643.45,208.09 L643.74,209.89 L644.01,211.65 L644.28,213.35 L644.54,214.98 L644.78,216.54 L645.00,218.02 L645.31,220.14 L645.56,221.95 L645.77,223.55 L645.97,225.03 L646.17,226.52 L646.39,228.11 L646.66,229.91 L647.00,232.03 L647.24,233.49 L647.50,235.04 L647.77,236.66 L648.05,238.35 L648.35,240.10 L648.65,241.89 L648.97,243.72 L649.30,245.59 L649.63,247.47 L649.97,249.36 L650.31,251.25 L650.65,253.13 L651.00,254.99 L651.31,256.61 L651.64,258.26 L651.97,259.94 L652.32,261.64 L652.68,263.36 L653.04,265.08 L653.41,266.81 L653.77,268.53 L654.12,270.25 L654.47,271.96 L654.81,273.64 L655.14,275.30 L655.45,276.92 L655.73,278.50 L656.00,280.03 L656.32,282.05 L656.60,284.04 L656.85,285.98 L657.08,287.88 L657.28,289.73 L657.48,291.55 L657.67,293.32 L657.88,295.05 L658.09,296.74 L658.33,298.38 L658.60,299.99 L658.96,301.87 L659.34,303.65 L659.74,305.35 L660.15,306.99 L660.57,308.60 L661.00,310.19 L661.43,311.78 L661.87,313.38 L662.30,315.02 L662.73,316.68 L663.16,318.34 L663.58,320.00 L664.01,321.65 L664.45,323.31 L664.91,324.96 L665.38,326.63 L665.88,328.30 L666.40,329.98 L666.91,331.53 L667.45,333.13 L668.02,334.75 L668.61,336.37 L669.21,337.97 L669.80,339.53 L670.39,341.03 L670.96,342.45 L671.50,343.78 L672.00,344.98 L672.76,346.71 L673.45,348.14 L674.10,349.38 L674.73,350.54 L675.35,351.71 L676.00,353.01 L676.60,354.38 L677.11,355.72 L677.62,357.07 L678.22,358.44 L678.99,359.86 L680.00,361.37 L680.76,362.38 L681.62,363.48 L682.56,364.64 L683.57,365.81 L684.62,366.93 L685.71,368.05 L686.81,369.20 L687.90,370.34 L688.97,371.38 L690.00,372.25 L691.28,373.15 L692.62,374.02 L693.97,374.90 L695.31,375.66 L696.62,376.29 L697.85,376.89 L698.99,377.55 L700.00,378.31 L701.48,379.35 L702.50,379.96 L703.52,380.80 L705.00,382.43 L705.80,383.37 L706.68,384.41 L707.63,385.49 L708.64,386.69 L709.69,388.12 L710.76,389.69 L711.84,391.15 L712.92,392.25 L713.98,393.02 L715.00,393.60 L716.90,394.59 L718.71,395.22 L720.57,395.28 L722.62,395.22 L725.00,395.65 L726.58,395.92 L728.38,396.25 L730.33,396.95 L732.36,397.43 L734.38,397.69 L736.33,398.41 L738.14,398.87 L739.72,399.02 L741.00,399.36 L743.81,400.38 L745.00,400.67 L748.00,401.58 L749.50,402.00 L751.00,402.45 L752.50,403.12 L754.00,403.83 L755.50,404.40 L757.00,404.80 L760.00,405.18 L763.00,405.77 L766.00,405.76 L769.00,406.07 L772.00,406.30 L775.00,406.99 L778.00,407.39 L781.00,408.31 L784.00,408.29 L787.00,409.07 L790.00,409.21 L793.00,409.33 L796.00,409.91 L799.00,410.15 L802.00,410.64 L805.00,411.38 L808.00,412.03 L811.00,411.75 L814.00,412.49 L817.00,412.93 L820.00,413.22 L823.00,413.80 L826.00,413.90 L829.00,414.62 L830.50,415.28 L832.00,416.18 L835.00,416.68 L838.00,416.97 L841.00,417.06 L842.50,416.26 L844.00,415.56 L847.00,414.90 L850.00,415.38 L853.00,415.27 L856.00,415.43 L859.00,415.85 L862.00,416.58 L865.00,417.24 L868.00,417.84 L870.50,418.44 L873.00,417.85 L876.00,418.00 L879.00,416.83 L882.00,418.07 L885.00,418.30 L888.00,419.52 L891.00,419.71 L894.00,419.60 L895.50,419.20 L897.00,418.55 L900.00,417.68 L903.00,417.37 L906.00,417.63 L909.00,417.27 L912.00,417.35 L915.00,417.93 L918.00,418.17 L921.00,417.57 L924.00,418.68 L927.00,417.93 L930.00,418.12 L933.00,418.01 L936.00,418.17 L939.00,417.59 L942.00,418.74 L945.00,418.91 L948.00,419.44 L951.00,420.57 L954.00,419.56 L957.00,420.22 L960.00,420.55 L963.00,419.22 L966.00,419.03 L969.00,419.27 L972.00,418.98 L975.00,418.49 L978.00,419.53 L981.00,418.66 L984.00,419.19 L987.00,419.29 L990.00,419.14 L993.00,419.38 L996.00,419.58 L999.00,419.33 L1002.00,419.77 L1005.00,420.03 L1008.00,419.59 L1011.00,420.18 L1014.00,420.35 L1017.00,420.09 L1020.00,420.84 L1023.00,421.41 L1026.00,421.75 L1029.00,420.83 L1032.00,421.31 L1035.00,420.32 L1038.00,419.89 L1041.00,419.71 L1044.00,419.74 L1047.00,420.01 L1050.00,419.86 L1053.00,420.45 L1056.00,420.01 L1059.00,420.77 L1062.00,420.33 L1065.00,420.38 L1068.00,420.76 L1071.00,420.47 L1074.00,420.15 L1077.00,420.92 L1080.00,420.46 L1083.00,420.49 L1086.00,421.60 L1089.00,421.57 L1092.00,421.29 L1095.00,421.71 L1098.00,421.21 L1101.00,421.02 L1104.00,421.04 L1107.00,420.98 L1110.00,420.58 L1113.00,421.39 L1116.00,420.54 L1119.00,420.83 L1122.00,421.35 L1125.00,420.51 L1128.00,420.87 L1131.00,421.41 L1134.00,421.42 L1137.00,422.03 L1140.00,422.92 L1143.00,422.62 L1146.00,422.38 L1149.00,422.76 L1152.00,421.81 L1155.00,421.32 L1158.00,421.17 L1161.00,421.38 L1164.00,421.24 L1167.00,421.78 L1170.00,421.01 L1173.00,421.96 L1176.00,421.45 L1179.00,421.76 L1182.00,421.41 L1185.00,421.62 L1188.00,421.17 L1191.00,420.97 L1194.00,421.09 L1197.00,421.57 L1200.00,421.08 L1203.00,421.83 L1206.00,421.76 L1209.00,422.01 L1212.00,421.95 L1215.00,422.53 L1218.00,422.29 L1221.00,422.78 L1224.00,422.39 L1227.00,422.25 L1230.00,421.89 L1233.00,422.01 L1236.00,421.50 L1239.00,422.13 L1242.00,421.80 L1245.00,421.36 L1248.00,422.12 L1251.00,421.66 L1254.00,421.63 L1257.00,422.15 L1259.00,422.08" fill="none" stroke="#DA70D6" stroke-width="1.0" stroke-linejoin="round"/><path d="M108.00,421.01 L111.00,421.44 L114.00,421.82 L117.00,420.85 L120.00,421.35 L123.00,422.07 L126.00,420.95 L129.00,420.82 L132.00,420.89 L135.00,421.62 L138.00,421.46 L141.00,420.67 L144.00,420.82 L147.00,420.82 L150.00,420.63 L153.00,421.18 L156.00,421.48 L159.00,421.74 L162.00,421.23 L165.00,420.62 L168.00,420.93 L171.00,420.63 L174.00,420.68 L177.00,421.15 L180.00,420.75 L183.00,420.87 L186.00,421.05 L189.00,420.95 L192.00,420.82 L195.00,420.60 L198.00,420.24 L201.00,420.26 L204.00,419.84 L207.00,419.70 L210.00,420.66 L213.00,420.36 L216.00,420.69 L219.00,420.90 L222.00,420.83 L225.00,420.82 L228.00,420.63 L231.00,421.86 L232.50,422.23 L234.00,422.41 L237.00,422.61 L240.00,422.78 L243.00,422.33 L246.00,421.51 L249.00,421.51 L252.00,421.58 L255.00,421.10 L258.00,421.22 L261.00,420.12 L262.50,419.72 L264.00,419.47 L267.00,419.34 L270.00,419.15 L273.00,419.95 L276.00,419.39 L279.00,418.85 L282.00,418.91 L285.00,418.44 L288.00,418.55 L291.00,418.93 L294.00,419.53 L297.00,419.05 L300.00,418.54 L303.00,418.50 L306.00,418.21 L309.00,417.88 L312.00,418.48 L315.00,418.63 L318.00,418.55 L321.00,418.43 L324.00,418.29 L327.00,418.58 L330.00,418.20 L333.00,418.12 L336.00,418.25 L339.00,418.30 L342.00,417.82 L345.00,418.21 L348.00,418.24 L351.00,418.04 L354.00,418.69 L357.00,419.21 L360.00,419.60 L363.00,418.80 L364.50,418.55 L366.00,418.19 L367.50,417.29 L369.00,416.35 L372.00,415.92 L375.00,415.76 L378.00,415.35 L381.00,415.53 L384.00,414.59 L387.00,414.58 L390.00,414.75 L393.00,414.46 L396.00,413.64 L399.00,413.02 L402.00,412.99 L405.00,413.31 L408.00,413.66 L411.00,414.34 L414.00,414.42 L417.00,413.59 L420.00,413.04 L423.00,412.55 L426.00,411.48 L429.00,411.39 L432.00,410.52 L435.00,410.39 L438.00,410.17 L441.00,409.66 L444.00,410.58 L447.00,410.63 L450.00,410.59 L453.00,410.89 L456.00,410.64 L457.50,409.89 L459.00,409.11 L460.50,408.48 L462.00,407.76 L463.50,406.58 L465.00,405.36 L466.50,404.86 L468.00,404.70 L471.00,403.82 L474.00,403.48 L477.00,402.83 L480.00,401.87 L483.00,401.05 L484.50,400.71 L486.00,399.89 L487.50,399.21 L489.00,398.87 L490.50,398.18 L492.00,397.11 L493.50,396.32 L495.00,395.71 L496.50,394.83 L498.00,393.91 L499.50,393.31 L501.00,392.56 L502.50,391.40 L504.00,390.30 L505.50,389.50 L507.00,388.80 L508.50,388.10 L510.00,387.26 L511.50,386.01 L513.00,384.59 L514.50,383.55 L516.00,382.88 L517.62,381.99 L519.00,380.84 L520.00,379.34 L520.64,378.57 L521.46,377.67 L522.40,376.65 L523.45,375.54 L524.56,374.35 L525.71,373.10 L526.86,371.84 L527.98,370.61 L529.04,369.45 L530.00,368.35 L530.98,367.16 L531.91,365.96 L532.81,364.78 L533.69,363.64 L534.55,362.54 L535.41,361.43 L536.26,360.30 L537.12,359.14 L538.00,357.97 L538.91,356.77 L539.85,355.52 L540.81,354.21 L541.78,352.87 L542.72,351.53 L543.63,350.28 L544.49,349.17 L545.29,348.23 L546.00,347.49 L548.19,346.53 L550.00,346.53 L551.18,345.98 L552.44,345.22 L553.73,344.19 L555.00,342.94 L555.83,341.90 L556.67,340.67 L557.50,339.27 L558.33,337.81 L559.17,336.39 L560.00,335.15 L561.02,333.84 L562.05,332.62 L563.07,331.46 L564.06,330.39 L565.00,329.50 L566.81,328.24 L569.00,327.96 L570.84,328.25 L573.06,328.80 L575.26,329.19 L577.00,329.43 L578.70,329.66 L580.00,328.52 L580.61,327.61 L581.31,326.38 L582.06,324.94 L582.82,323.40 L583.55,321.86 L584.22,320.43 L584.80,319.21 L585.57,317.53 L586.15,316.14 L586.66,314.88 L587.20,313.55 L587.80,312.06 L588.40,310.52 L589.00,309.11 L589.60,307.99 L590.80,306.72 L592.00,306.06 L594.40,305.57 L594.85,304.36 L595.22,302.68 L595.59,300.79 L596.00,298.98 L596.44,297.39 L596.90,295.85 L597.41,294.13 L598.00,292.02 L598.40,290.54 L598.84,288.87 L599.31,287.07 L599.79,285.22 L600.28,283.38 L600.75,281.61 L601.20,279.97 L601.67,278.33 L602.09,276.91 L602.51,275.54 L602.94,274.05 L603.43,272.28 L604.00,270.05 L604.33,268.75 L604.68,267.38 L605.05,265.94 L605.44,264.44 L605.84,262.86 L606.26,261.23 L606.67,259.53 L607.09,257.76 L607.51,255.93 L607.92,254.03 L608.32,252.05 L608.70,250.00 L608.96,248.49 L609.23,246.92 L609.49,245.29 L609.75,243.61 L610.00,241.88 L610.26,240.12 L610.51,238.32 L610.77,236.51 L611.02,234.67 L611.27,232.82 L611.52,230.97 L611.77,229.12 L612.02,227.27 L612.26,225.43 L612.51,223.61 L612.76,221.81 L613.00,220.04 L613.25,218.26 L613.50,216.43 L613.75,214.57 L614.00,212.69 L614.26,210.78 L614.51,208.87 L614.77,206.96 L615.02,205.06 L615.27,203.18 L615.51,201.33 L615.75,199.52 L615.98,197.76 L616.20,196.06 L616.42,194.42 L616.62,192.86 L616.82,191.37 L617.00,189.98 L617.31,187.61 L617.59,185.54 L617.83,183.69 L618.05,182.02 L618.26,180.46 L618.44,178.94 L618.63,177.41 L618.81,175.81 L619.00,174.06 L619.19,172.17 L619.38,170.19 L619.56,168.17 L619.73,166.13 L619.90,164.11 L620.06,162.15 L620.22,160.28 L620.36,158.54 L620.50,156.97 L620.71,154.38 L620.87,152.02 L621.02,150.00 L621.18,148.46 L621.40,147.51 L622.12,148.32 L623.00,150.95 L623.67,152.57 L624.40,154.32 L625.20,155.70 L626.56,156.51 L628.00,157.17 L628.98,158.20 L629.96,159.47 L630.80,160.76 L631.62,162.50 L632.30,164.48 L632.84,166.10 L633.39,167.93 L633.90,170.04 L634.22,171.78 L634.51,173.65 L634.82,175.72 L635.20,178.07 L635.45,179.46 L635.72,180.85 L636.01,182.28 L636.31,183.85 L636.64,185.60 L637.00,187.63 L637.40,189.99 L637.63,191.45 L637.88,193.08 L638.15,194.85 L638.42,196.72 L638.71,198.68 L639.00,200.69 L639.30,202.73 L639.60,204.77 L639.89,206.78 L640.18,208.74 L640.47,210.61 L640.74,212.37 L641.00,213.99 L641.35,216.02 L641.66,217.73 L641.95,219.22 L642.24,220.62 L642.53,222.02 L642.84,223.56 L643.18,225.32 L643.56,227.43 L644.00,230.01 L644.22,231.33 L644.44,232.74 L644.67,234.23 L644.91,235.80 L645.15,237.43 L645.40,239.12 L645.66,240.87 L645.92,242.66 L646.19,244.48 L646.47,246.34 L646.75,248.22 L647.04,250.11 L647.33,252.01 L647.62,253.92 L647.93,255.81 L648.23,257.70 L648.54,259.57 L648.86,261.41 L649.18,263.21 L649.50,264.98 L649.82,266.66 L650.15,268.39 L650.51,270.15 L650.87,271.93 L651.24,273.74 L651.63,275.57 L652.02,277.40 L652.41,279.23 L652.81,281.05 L653.21,282.86 L653.60,284.65 L654.00,286.41 L654.38,288.14 L654.76,289.82 L655.13,291.45 L655.48,293.04 L655.82,294.57 L656.15,296.04 L656.45,297.44 L656.74,298.76 L657.00,300.00 L657.53,302.56 L657.97,304.71 L658.33,306.52 L658.63,308.09 L658.90,309.48 L659.15,310.79 L659.41,312.09 L659.68,313.48 L660.00,315.02 L660.34,316.68 L660.68,318.37 L661.01,320.07 L661.35,321.77 L661.69,323.46 L662.04,325.14 L662.41,326.79 L662.80,328.40 L663.20,329.96 L663.69,331.66 L664.20,333.30 L664.75,334.88 L665.30,336.39 L665.86,337.85 L666.42,339.25 L666.97,340.62 L667.50,341.97 L668.08,343.50 L668.63,345.01 L669.18,346.49 L669.72,347.94 L670.29,349.35 L670.87,350.71 L671.50,352.02 L672.31,353.50 L673.18,354.94 L674.09,356.33 L674.99,357.65 L675.84,358.86 L676.60,359.96 L677.51,361.36 L678.24,362.56 L679.01,363.74 L680.00,365.08 L680.84,366.04 L681.77,366.95 L682.77,367.81 L683.83,368.72 L684.91,369.78 L686.00,370.99 L686.95,372.10 L687.93,373.25 L688.93,374.41 L689.95,375.59 L690.97,376.75 L691.99,377.83 L693.00,378.77 L694.43,379.94 L695.90,381.09 L697.34,382.15 L698.73,382.97 L700.00,383.55 L701.63,383.78 L703.04,383.82 L705.00,384.87 L705.78,385.56 L706.63,386.45 L707.54,387.46 L708.50,388.56 L709.50,389.73 L710.54,390.96 L711.62,392.22 L712.73,393.41 L713.86,394.41 L715.00,395.09 L716.70,395.58 L718.50,396.07 L720.36,396.82 L722.27,396.91 L724.20,396.65 L726.12,397.24 L728.00,397.70 L729.69,397.72 L731.46,398.22 L733.27,398.85 L735.06,399.27 L736.78,399.84 L738.38,400.07 L739.81,400.12 L741.00,400.53 L743.62,401.99 L745.00,402.17 L748.00,402.82 L751.00,403.58 L752.50,404.43 L754.00,405.29 L755.50,405.55 L757.00,405.63 L760.00,406.46 L763.00,406.44 L766.00,406.63 L769.00,406.92 L772.00,406.90 L775.00,407.83 L778.00,408.60 L781.00,409.04 L784.00,409.65 L787.00,409.82 L790.00,410.01 L793.00,410.10 L796.00,410.60 L799.00,410.90 L802.00,411.29 L805.00,412.62 L808.00,412.74 L811.00,412.94 L814.00,412.93 L817.00,414.13 L820.00,414.01 L823.00,414.42 L826.00,414.70 L829.00,415.39 L830.50,416.20 L832.00,417.10 L835.00,417.41 L838.00,417.70 L841.00,417.42 L842.50,416.62 L844.00,415.83 L847.00,415.21 L850.00,415.93 L853.00,415.52 L856.00,416.13 L859.00,416.47 L862.00,417.47 L865.00,417.47 L868.00,418.40 L870.50,418.64 L873.00,418.65 L876.00,417.42 L879.00,418.00 L882.00,417.87 L885.00,418.81 L888.00,419.61 L891.00,420.22 L894.00,419.90 L895.50,419.39 L897.00,418.64 L900.00,418.06 L903.00,417.94 L906.00,417.61 L909.00,417.52 L912.00,418.08 L915.00,417.80 L918.00,418.66 L921.00,417.77 L924.00,419.17 L927.00,418.09 L930.00,418.26 L933.00,418.71 L936.00,418.08 L939.00,418.16 L942.00,418.79 L945.00,419.45 L948.00,419.71 L951.00,420.65 L954.00,420.01 L957.00,420.79 L960.00,420.30 L963.00,419.81 L966.00,419.55 L969.00,419.16 L972.00,419.36 L975.00,419.24 L978.00,419.06 L981.00,419.77 L984.00,418.82 L987.00,419.92 L990.00,419.55 L993.00,419.29 L996.00,420.21 L999.00,419.55 L1002.00,420.08 L1005.00,420.14 L1008.00,420.24 L1011.00,420.14 L1014.00,420.93 L1017.00,420.07 L1020.00,421.49 L1023.00,421.55 L1026.00,421.86 L1029.00,421.53 L1032.00,421.26 L1035.00,420.83 L1038.00,420.03 L1041.00,420.11 L1044.00,420.06 L1047.00,420.24 L1050.00,420.08 L1053.00,420.99 L1056.00,420.10 L1059.00,421.09 L1062.00,420.66 L1065.00,420.80 L1068.00,420.93 L1071.00,420.60 L1074.00,420.91 L1077.00,420.90 L1080.00,420.66 L1083.00,421.08 L1086.00,421.81 L1089.00,421.70 L1092.00,421.73 L1095.00,422.05 L1098.00,421.49 L1101.00,421.17 L1104.00,421.56 L1107.00,421.02 L1110.00,421.38 L1113.00,420.81 L1116.00,421.73 L1119.00,420.81 L1122.00,421.33 L1125.00,421.23 L1128.00,421.12 L1131.00,421.57 L1134.00,421.59 L1137.00,422.78 L1140.00,422.85 L1143.00,423.02 L1146.00,422.62 L1149.00,423.27 L1152.00,421.94 L1155.00,421.52 L1158.00,421.67 L1161.00,421.71 L1164.00,421.38 L1167.00,421.92 L1170.00,421.97 L1173.00,421.52 L1176.00,422.10 L1179.00,422.04 L1182.00,421.79 L1185.00,421.66 L1188.00,421.70 L1191.00,421.13 L1194.00,421.71 L1197.00,421.25 L1200.00,421.94 L1203.00,422.02 L1206.00,421.81 L1209.00,422.43 L1212.00,422.52 L1215.00,422.37 L1218.00,422.98 L1221.00,422.72 L1224.00,423.14 L1227.00,422.17 L1230.00,422.23 L1233.00,422.60 L1236.00,421.47 L1239.00,422.64 L1242.00,421.89 L1245.00,422.03 L1248.00,421.99 L1251.00,422.25 L1254.00,421.76 L1257.00,422.63 L1259.00,422.12" fill="none" stroke="#3CB371" stroke-width="1.0" stroke-linejoin="round"/><path d="M108.00,421.47 L111.00,422.10 L114.00,422.36 L117.00,421.34 L120.00,422.05 L123.00,422.55 L126.00,421.71 L129.00,420.94 L132.00,421.50 L133.50,421.93 L135.00,422.34 L138.00,421.78 L141.00,421.22 L144.00,421.38 L147.00,421.06 L150.00,420.83 L153.00,422.01 L156.00,422.08 L159.00,422.33 L162.00,421.70 L165.00,421.47 L168.00,420.80 L171.00,421.28 L174.00,421.25 L177.00,421.38 L180.00,421.26 L183.00,421.46 L186.00,421.51 L189.00,421.43 L192.00,421.27 L195.00,420.97 L198.00,420.72 L201.00,420.29 L204.00,420.01 L207.00,420.01 L210.00,420.80 L213.00,420.90 L216.00,420.97 L219.00,421.41 L222.00,421.31 L225.00,421.17 L228.00,421.30 L231.00,422.23 L232.50,422.90 L234.00,423.25 L237.00,423.12 L240.00,423.16 L243.00,422.82 L246.00,421.92 L249.00,421.87 L252.00,421.89 L255.00,421.57 L258.00,421.10 L261.00,420.70 L264.00,419.58 L267.00,419.82 L270.00,419.88 L273.00,420.63 L276.00,420.00 L279.00,419.67 L282.00,419.27 L285.00,418.74 L288.00,419.05 L291.00,419.74 L294.00,420.20 L297.00,419.37 L300.00,419.59 L303.00,418.77 L306.00,418.45 L309.00,418.39 L312.00,419.13 L315.00,418.96 L318.00,419.21 L321.00,419.02 L324.00,419.02 L327.00,418.66 L330.00,418.98 L333.00,418.89 L336.00,418.48 L339.00,418.57 L342.00,418.81 L345.00,418.54 L348.00,418.55 L351.00,418.52 L354.00,419.59 L357.00,419.82 L360.00,420.01 L363.00,419.85 L364.50,419.41 L366.00,418.45 L367.50,417.44 L369.00,416.79 L372.00,416.58 L375.00,416.51 L378.00,416.12 L381.00,416.10 L384.00,415.38 L387.00,415.35 L390.00,415.24 L393.00,415.15 L396.00,414.26 L399.00,413.60 L402.00,413.28 L405.00,413.81 L408.00,414.49 L411.00,415.20 L414.00,415.06 L417.00,414.41 L420.00,413.93 L423.00,413.13 L426.00,412.38 L429.00,412.37 L432.00,411.55 L435.00,411.05 L438.00,410.85 L441.00,410.88 L444.00,411.10 L447.00,411.24 L450.00,411.47 L453.00,411.45 L456.00,411.10 L457.50,410.47 L459.00,410.00 L460.50,409.52 L462.00,408.74 L463.50,407.49 L465.00,406.24 L468.00,405.34 L471.00,405.15 L474.00,404.43 L477.00,403.42 L480.00,402.67 L481.50,402.10 L483.00,401.54 L484.50,400.90 L486.00,400.32 L487.50,399.97 L489.00,399.46 L490.50,398.61 L492.00,397.91 L493.50,397.39 L495.00,396.51 L496.50,395.38 L498.00,394.61 L499.50,394.17 L501.00,393.51 L502.50,392.47 L504.00,391.38 L505.50,390.48 L507.00,389.73 L508.50,388.91 L510.00,387.94 L511.50,386.86 L513.00,385.64 L514.50,384.36 L516.00,383.38 L517.62,382.72 L519.00,381.83 L520.00,379.99 L520.64,379.09 L521.46,378.18 L522.40,377.15 L523.45,376.02 L524.56,374.80 L525.71,373.53 L526.86,372.30 L527.98,371.13 L529.04,369.98 L530.00,368.86 L530.98,367.64 L531.93,366.43 L532.85,365.25 L533.75,364.10 L534.62,362.95 L535.48,361.80 L536.33,360.65 L537.17,359.54 L538.00,358.47 L538.94,357.26 L539.89,356.01 L540.83,354.73 L541.75,353.47 L542.64,352.26 L543.48,351.17 L544.28,350.23 L545.00,349.48 L547.19,348.54 L549.00,348.29 L550.37,347.38 L551.74,346.27 L553.00,345.04 L554.04,343.75 L554.96,342.39 L556.00,340.95 L556.98,339.73 L558.06,338.40 L559.12,337.09 L560.00,336.01 L560.94,334.55 L562.00,334.00 L563.52,334.47 L565.37,335.30 L567.00,335.95 L570.00,336.22 L571.54,335.60 L573.30,334.79 L575.00,334.07 L576.54,333.69 L578.02,333.32 L579.50,332.13 L580.16,331.13 L580.86,329.80 L581.56,328.28 L582.25,326.66 L582.90,325.08 L583.49,323.66 L584.00,322.54 L585.16,320.60 L586.00,319.19 L586.65,317.39 L587.30,315.34 L588.00,313.60 L589.12,312.03 L590.40,310.80 L591.48,309.91 L592.65,309.02 L593.60,307.98 L594.27,306.17 L594.80,303.97 L595.24,302.61 L595.75,301.10 L596.28,299.53 L596.80,298.01 L597.27,296.67 L597.73,295.43 L598.22,293.99 L598.80,292.07 L599.20,290.64 L599.65,288.99 L600.12,287.19 L600.61,285.31 L601.10,283.43 L601.57,281.62 L602.00,279.96 L602.46,278.18 L602.91,276.48 L603.33,274.85 L603.74,273.23 L604.13,271.62 L604.50,269.98 L604.91,267.97 L605.28,265.97 L605.64,263.97 L606.00,261.97 L606.40,259.98 L606.76,258.32 L607.13,256.67 L607.51,255.02 L607.90,253.38 L608.30,251.73 L608.70,250.08 L609.11,248.53 L609.52,247.12 L609.94,245.69 L610.37,244.11 L610.79,242.26 L611.20,239.98 L611.42,238.52 L611.64,236.92 L611.86,235.21 L612.08,233.39 L612.30,231.51 L612.51,229.58 L612.73,227.61 L612.95,225.65 L613.16,223.70 L613.38,221.79 L613.60,219.94 L613.82,218.13 L614.03,216.32 L614.24,214.52 L614.45,212.71 L614.66,210.90 L614.88,209.09 L615.09,207.28 L615.31,205.47 L615.53,203.66 L615.76,201.85 L616.00,200.03 L616.25,198.16 L616.52,196.21 L616.79,194.20 L617.08,192.17 L617.36,190.15 L617.65,188.17 L617.93,186.26 L618.20,184.46 L618.45,182.80 L618.69,181.31 L618.90,180.01 L619.49,177.06 L619.91,175.67 L620.40,174.01 L620.77,172.41 L621.18,170.58 L621.60,168.72 L622.02,167.00 L622.40,165.59 L623.17,163.37 L624.00,162.15 L626.50,161.79 L628.80,162.49 L629.99,163.10 L631.33,163.86 L632.40,164.75 L633.12,165.74 L633.60,167.94 L633.84,169.46 L634.10,171.37 L634.37,173.52 L634.64,175.77 L634.92,177.97 L635.20,179.96 L635.50,181.86 L635.78,183.44 L636.08,185.06 L636.44,187.12 L636.90,190.00 L637.12,191.42 L637.36,193.02 L637.61,194.78 L637.89,196.66 L638.17,198.63 L638.47,200.66 L638.77,202.72 L639.07,204.78 L639.37,206.82 L639.67,208.79 L639.96,210.67 L640.24,212.43 L640.50,214.05 L640.85,216.06 L641.16,217.76 L641.45,219.24 L641.74,220.63 L642.03,222.02 L642.34,223.55 L642.68,225.30 L643.06,227.40 L643.50,229.96 L643.72,231.28 L643.94,232.68 L644.17,234.17 L644.41,235.72 L644.66,237.35 L644.91,239.03 L645.17,240.77 L645.44,242.56 L645.71,244.39 L645.99,246.25 L646.27,248.14 L646.56,250.04 L646.85,251.97 L647.15,253.89 L647.45,255.81 L647.75,257.72 L648.06,259.62 L648.37,261.48 L648.68,263.30 L649.00,265.08 L649.31,266.77 L649.64,268.49 L649.98,270.24 L650.33,272.01 L650.69,273.80 L651.06,275.59 L651.44,277.40 L651.82,279.21 L652.20,281.01 L652.58,282.81 L652.96,284.60 L653.33,286.36 L653.70,288.10 L654.06,289.80 L654.41,291.45 L654.75,293.04 L655.08,294.58 L655.39,296.05 L655.68,297.45 L655.95,298.77 L656.20,300.00 L656.76,302.83 L657.20,305.16 L657.55,307.09 L657.85,308.75 L658.11,310.26 L658.38,311.72 L658.66,313.26 L659.00,315.00 L659.33,316.69 L659.67,318.39 L660.01,320.11 L660.36,321.83 L660.71,323.54 L661.07,325.22 L661.44,326.86 L661.82,328.46 L662.20,330.00 L662.71,331.89 L663.24,333.72 L663.78,335.47 L664.33,337.17 L664.88,338.82 L665.44,340.42 L666.00,341.99 L666.55,343.54 L667.10,345.05 L667.66,346.52 L668.22,347.95 L668.79,349.34 L669.38,350.69 L670.00,352.00 L670.75,353.48 L671.53,354.89 L672.33,356.25 L673.14,357.56 L673.97,358.80 L674.80,359.99 L675.74,361.26 L676.62,362.38 L677.56,363.50 L678.65,364.74 L680.00,366.23 L680.83,367.11 L681.77,368.09 L682.80,369.13 L683.89,370.21 L685.01,371.31 L686.13,372.43 L687.22,373.56 L688.24,374.64 L689.18,375.60 L690.00,376.43 L691.32,377.80 L692.36,378.99 L693.24,380.03 L694.08,380.96 L695.00,381.82 L696.25,382.77 L697.50,383.56 L698.75,384.25 L700.00,384.83 L701.59,384.96 L703.19,385.09 L705.00,386.09 L705.84,386.89 L706.68,387.91 L707.55,389.12 L708.48,390.46 L709.50,391.83 L710.67,393.02 L712.00,393.83 L713.32,394.21 L714.76,394.56 L716.30,395.13 L717.94,395.74 L719.64,395.95 L721.40,395.98 L723.19,396.27 L725.00,396.60 L726.53,397.07 L728.20,397.94 L729.96,398.56 L731.76,398.72 L733.56,399.23 L735.32,399.91 L736.99,400.53 L738.52,401.20 L739.87,401.62 L741.00,401.77 L743.81,402.57 L745.00,403.13 L748.00,403.72 L751.00,404.66 L752.50,405.14 L754.00,405.56 L755.50,406.19 L757.00,406.86 L760.00,406.84 L763.00,407.27 L766.00,406.95 L769.00,407.49 L772.00,407.38 L775.00,408.50 L778.00,409.14 L781.00,409.76 L784.00,410.41 L787.00,410.49 L790.00,410.34 L793.00,410.77 L796.00,411.00 L799.00,411.29 L802.00,411.94 L803.50,412.75 L805.00,413.23 L808.00,413.42 L811.00,413.41 L814.00,413.66 L817.00,414.56 L820.00,414.83 L823.00,414.64 L826.00,415.25 L829.00,416.08 L830.50,416.84 L832.00,417.56 L835.00,417.83 L838.00,418.37 L841.00,417.58 L842.50,416.66 L844.00,415.96 L847.00,415.59 L850.00,416.06 L853.00,415.88 L856.00,416.41 L859.00,417.27 L862.00,417.43 L865.00,418.16 L868.00,418.71 L870.50,418.51 L873.00,418.63 L876.00,418.16 L879.00,417.69 L882.00,418.24 L885.00,419.18 L888.00,419.64 L891.00,420.38 L894.00,420.15 L895.50,419.49 L897.00,418.90 L900.00,418.42 L903.00,417.58 L906.00,418.24 L909.00,417.85 L912.00,417.91 L915.00,418.13 L918.00,418.77 L921.00,418.45 L924.00,418.62 L927.00,418.72 L930.00,418.67 L933.00,418.41 L936.00,418.38 L939.00,418.89 L942.00,418.38 L945.00,419.74 L948.00,420.22 L951.00,420.63 L954.00,420.26 L957.00,420.94 L960.00,420.42 L963.00,420.30 L966.00,419.54 L969.00,419.35 L972.00,419.49 L975.00,419.70 L978.00,419.22 L981.00,419.51 L984.00,419.63 L987.00,419.91 L990.00,419.47 L993.00,419.88 L996.00,420.23 L999.00,419.78 L1002.00,420.09 L1005.00,420.65 L1008.00,420.37 L1011.00,420.22 L1014.00,420.90 L1017.00,420.89 L1020.00,421.43 L1023.00,421.30 L1026.00,422.53 L1029.00,421.89 L1032.00,421.09 L1035.00,420.89 L1038.00,420.86 L1041.00,419.86 L1044.00,420.20 L1047.00,420.69 L1050.00,420.42 L1053.00,420.55 L1056.00,420.95 L1059.00,421.04 L1062.00,420.90 L1065.00,420.88 L1068.00,421.23 L1071.00,420.89 L1074.00,421.04 L1077.00,420.97 L1080.00,420.93 L1083.00,421.39 L1086.00,422.01 L1089.00,421.63 L1092.00,422.21 L1095.00,422.21 L1098.00,421.52 L1101.00,421.66 L1104.00,421.42 L1107.00,421.51 L1110.00,421.32 L1113.00,421.36 L1116.00,421.50 L1119.00,421.38 L1122.00,421.24 L1125.00,421.57 L1128.00,421.51 L1131.00,421.27 L1134.00,422.27 L1137.00,422.70 L1140.00,423.29 L1143.00,422.89 L1146.00,423.18 L1149.00,423.10 L1152.00,422.47 L1155.00,421.61 L1158.00,421.82 L1161.00,421.75 L1164.00,421.98 L1167.00,422.04 L1170.00,421.64 L1173.00,422.33 L1176.00,422.25 L1179.00,421.82 L1182.00,422.25 L1185.00,422.14 L1188.00,421.33 L1191.00,421.72 L1194.00,421.75 L1197.00,421.84 L1200.00,421.46 L1203.00,422.54 L1206.00,422.39 L1209.00,422.29 L1212.00,422.25 L1215.00,423.51 L1218.00,422.59 L1221.00,423.15 L1224.00,422.94 L1227.00,422.94 L1230.00,422.25 L1233.00,422.27 L1236.00,422.53 L1239.00,422.28 L1242.00,422.14 L1245.00,422.22 L1248.00,422.65 L1251.00,421.70 L1254.00,422.52 L1257.00,422.52 L1259.00,422.32" fill="none" stroke="#B8860B" stroke-width="1.0" stroke-linejoin="round"/></g>
<rect x="108.5" y="57.5" width="1151" height="381" fill="none" stroke="#000" stroke-width="1"/>
<text transform="translate(105.3,442.9) scale(1,1.05)" text-anchor="end" class="tk">0</text><text transform="translate(105.3,366.9) scale(1,1.05)" text-anchor="end" class="tk">5</text><text transform="translate(105.3,290.9) scale(1,1.05)" text-anchor="end" class="tk">10</text><text transform="translate(105.3,214.9) scale(1,1.05)" text-anchor="end" class="tk">15</text><text transform="translate(105.3,138.9) scale(1,1.05)" text-anchor="end" class="tk">20</text><text transform="translate(105.3,62.9) scale(1,1.05)" text-anchor="end" class="tk">25</text><text transform="translate(188.3,451.2) scale(1,1.05)" text-anchor="middle" class="tk">-1000</text><text transform="translate(287.4,451.2) scale(1,1.05)" text-anchor="middle" class="tk">-800</text><text transform="translate(386.5,451.2) scale(1,1.05)" text-anchor="middle" class="tk">-600</text><text transform="translate(485.5,451.2) scale(1,1.05)" text-anchor="middle" class="tk">-400</text><text transform="translate(584.6,451.2) scale(1,1.05)" text-anchor="middle" class="tk">-200</text><text transform="translate(782.8,451.2) scale(1,1.05)" text-anchor="middle" class="tk">200</text><text transform="translate(881.9,451.2) scale(1,1.05)" text-anchor="middle" class="tk">400</text><text transform="translate(980.9,451.2) scale(1,1.05)" text-anchor="middle" class="tk">600</text><text transform="translate(1080.0,451.2) scale(1,1.05)" text-anchor="middle" class="tk">800</text><text transform="translate(1179.1,451.2) scale(1,1.05)" text-anchor="middle" class="tk">1000</text>
<text x="683.3" y="475.8" text-anchor="middle" class="ax">Velocity (Km/sec)</text>
<text transform="translate(63,297) rotate(-90)" text-anchor="start" class="ax" style="font-size:13.05px">Relative intensity</text>
<rect x="1058" y="78" width="22" height="2" fill="#2F4F4F"/><text transform="translate(1084.6,84.0) scale(1,1.13)" class="lg">2017-05-22.839</text><text transform="translate(1167.6,84.0) scale(1.045,1.13)" class="lg">J. Guarro</text><rect x="1058" y="92" width="22" height="2" fill="#1E90FF"/><text transform="translate(1084.6,98.0) scale(1,1.13)" class="lg">2017-05-23.879</text><text transform="translate(1167.6,98.0) scale(1.045,1.13)" class="lg">J. Guarro</text><rect x="1058" y="106" width="22" height="2" fill="#DA70D6"/><text transform="translate(1084.6,112.0) scale(1,1.13)" class="lg">2017-05-24.863</text><text transform="translate(1167.6,112.0) scale(1.045,1.13)" class="lg">fteyssier</text><rect x="1058" y="120" width="22" height="2" fill="#3CB371"/><text transform="translate(1084.6,126.0) scale(1,1.13)" class="lg">2017-05-25.863</text><text transform="translate(1167.6,126.0) scale(1.045,1.13)" class="lg">fteyssier</text><rect x="1058" y="134" width="22" height="2" fill="#B8860B"/><text transform="translate(1084.6,140.0) scale(1,1.13)" class="lg">2017-05-26.871</text><text transform="translate(1167.6,140.0) scale(1.045,1.13)" class="lg">fteyssier</text>
</svg>
</body></html>
